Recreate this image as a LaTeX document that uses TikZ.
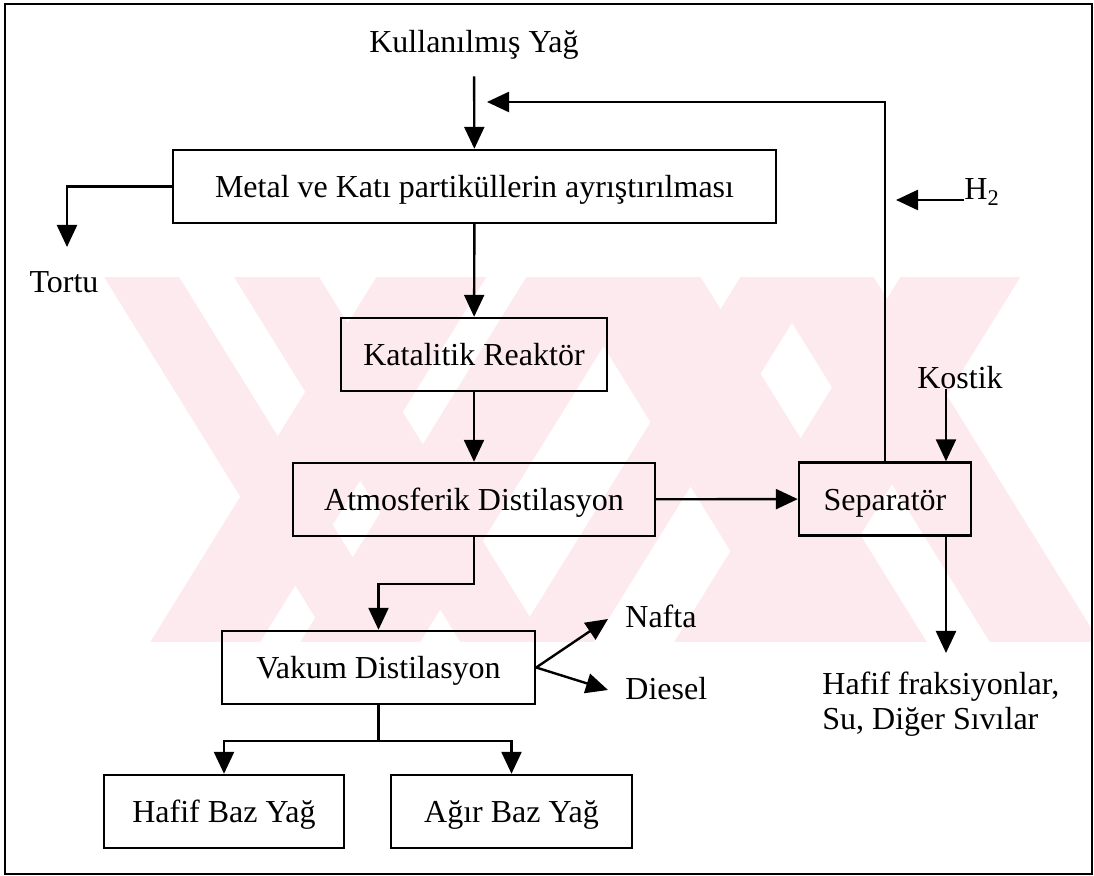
\documentclass[tikz,border=0pt]{standalone}
\usepackage{fontspec}
\setmainfont{Liberation Serif}
\usetikzlibrary{arrows.meta}
\definecolor{wmpink}{RGB}{253,234,238}
\tikzset{
  box/.style={draw, line width=1.2pt, inner sep=0pt, minimum height=36.5pt,
    text height=11.5pt, text depth=0pt},
  lbl/.style={inner sep=0pt},
  arr/.style={-{Triangle[length=11pt,width=10pt]}, line width=1.2pt},
  wm/.style={fill=wmpink, draw=none},
}
% one pale stripe of the background mark: x at mid band, slope, width
\newcommand{\wmbar}[3]{%
  \fill[wm] ({#1-#3/2+#2*(250-460)},250) -- ({#1+#3/2+#2*(250-460)},250)
    -- ({#1+#3/2+#2*(670-460)},670) -- ({#1-#3/2+#2*(670-460)},670) -- cycle;}
\begin{document}
\begin{tikzpicture}[x=0.5pt, y=-0.5pt, font=\fontsize{16}{17.5}\selectfont]
  \useasboundingbox (0,0) rectangle (1094,876);
  % background mark
  \begin{scope}
    \clip (5,278) rectangle (1092,642);
    \wmbar{255}{0.62}{75}
    \wmbar{390}{0.62}{85}
    \wmbar{744}{0.62}{140}
    \wmbar{932}{0.62}{110}
    \wmbar{318}{-0.62}{110}
    \wmbar{473}{-0.62}{120}
    \wmbar{667}{-0.62}{80}
    \wmbar{847}{-0.62}{120}
  \end{scope}
  \draw[line width=1.4pt] (5,4) rectangle (1092,874);

  \node[lbl, anchor=base] (kul) at (474, 53) {Kullanılmış Yağ};
  \node[box, minimum width=301.5pt] (metal) at (474.5, 186.5) {Metal ve Katı partiküllerin ayrıştırılması};
  \node[box, minimum width=133pt] (kat) at (474, 354.5) {Katalitik Reaktör};
  \node[box, minimum width=181pt] (atm) at (474, 499.5) {Atmosferik Distilasyon};
  \node[box, minimum width=86pt] (sep) at (885, 499) {Separatör};
  \node[box, minimum width=156.5pt] (vak) at (378.5, 667.5) {Vakum Distilasyon};
  \node[box, minimum width=120pt] (hbaz) at (224, 811.5) {Hafif Baz Yağ};
  \node[box, minimum width=120.5pt] (abaz) at (511.5, 811.5) {Ağır Baz Yağ};
  \node[lbl, anchor=base] (tortu) at (64, 293) {Tortu};
  \node[lbl, anchor=base west] (h2) at (964, 200) {H\textsubscript{2}};
  \node[lbl, anchor=base] (kostik) at (960, 389) {Kostik};
  \node[lbl, anchor=base west] (nafta) at (625, 628) {Nafta};
  \node[lbl, anchor=base west] (diesel) at (625, 700) {Diesel};
  \node[lbl, anchor=north west, align=left] (hfr) at (822, 672) {Hafif fraksiyonlar,\\Su, Diğer Sıvılar};

  \coordinate (recin) at (487, 102);
  \coordinate (h2in) at (896, 200);
  \coordinate (tortuin) at (67, 247);
  \coordinate (nafin) at (608, 619);
  \coordinate (diein) at (608, 690);
  \coordinate (hfin) at (946, 653);

  \draw[arr, shorten <=8pt] (kul) -- (metal);
  \draw[arr] (sep.north) |- (recin);
  \draw[arr] (h2.base west) -- (h2in);
  \draw[arr] (metal.west) -| (tortuin);
  \draw[arr] (metal) -- (kat);
  \draw[arr] (kat) -- (atm);
  \draw[arr] (atm) -- (sep);
  \draw[arr] ([xshift=-7pt]kostik.base) -- ([xshift=-7pt]kostik.base |- sep.north);
  \draw[arr] (sep.south -| hfin) -- (hfin);
  \draw[arr] (atm.south) -- ++(0,47) -| (vak.north);
  \draw[arr] (vak.east) -- (nafin);
  \draw[arr] (vak.east) -- (diein);
  \draw[line width=1.2pt] (vak.south) -- ++(0,36) coordinate (fork);
  \draw[arr] (fork) -| (hbaz.north);
  \draw[arr] (fork) -| (abaz.north);
\end{tikzpicture}
\end{document}
